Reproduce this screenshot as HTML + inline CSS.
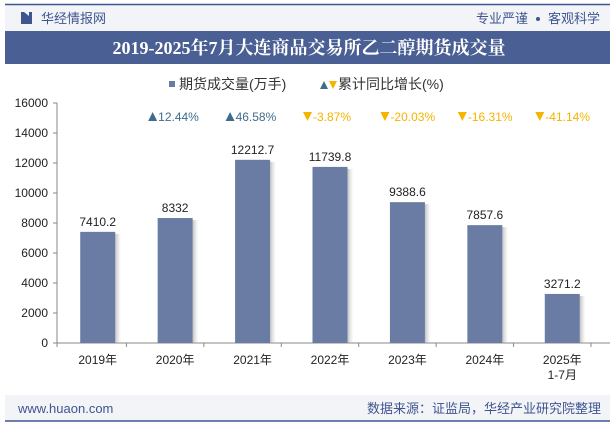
<!DOCTYPE html>
<html><head><meta charset="utf-8"><style>
body{margin:0;width:615px;height:427px;background:#fff;font-family:"Liberation Sans","Noto Sans CJK SC",sans-serif;overflow:hidden}
</style></head><body>
<svg width="615" height="427" xmlns="http://www.w3.org/2000/svg" font-family="Liberation Sans, Noto Sans CJK SC, sans-serif">
<defs><linearGradient id="sh" x1="0" x2="1"><stop offset="0" stop-color="#999" stop-opacity=".6"/><stop offset="1" stop-color="#ccc" stop-opacity="0"/></linearGradient></defs>
<rect x="5" y="5" width="605" height="26" fill="#f3f4f8"/>
<line x1="5" y1="4.5" x2="610" y2="4.5" stroke="#3f5590" stroke-width="1.5"/>
<rect x="21" y="12" width="3" height="12" fill="#3f5590"/><path d="M24 12 L29 16 L29 24 L24 24Z" fill="#3f5590"/><rect x="29" y="12" width="3" height="12" fill="#3f5590"/>
<text x="41" y="23" font-size="13" fill="#3f5590">华经情报网</text>
<text x="476" y="23" font-size="13" fill="#3f5590">专业严谨</text>
<circle cx="538" cy="19" r="2" fill="#3f5590"/>
<text x="548" y="23" font-size="13" fill="#3f5590">客观科学</text>
<rect x="5" y="31" width="605" height="33" fill="#4a5f93"/>
<text x="309" y="54" font-size="18" font-weight="bold" fill="#fff" text-anchor="middle" font-family="Liberation Serif, Noto Serif CJK SC, serif">2019-2025年7月大连商品交易所乙二醇期货成交量</text>
<rect x="169" y="81" width="6" height="6" fill="#6a7ca3"/>
<text x="179" y="89" font-size="14" fill="#333">期货成交量(万手)</text>
<path d="M320 89 L324 81 L328 89Z" fill="#3f6c8c"/><path d="M329 81 L337 81 L333 89Z" fill="#f5b400"/>
<text x="338" y="89" font-size="14" fill="#333">累计同比增长(%)</text>
<g id="axes"></g><g id="bars"></g>
<rect x="5" y="395" width="605" height="26" fill="#f3f4f8"/>
<line x1="5" y1="421" x2="610" y2="421" stroke="#3f5590" stroke-width="1.5"/>
<text x="18" y="413" font-size="13" fill="#3f5590">www.huaon.com</text>
<text x="601" y="413" font-size="13" fill="#3f5590" text-anchor="end">数据来源：证监局，华经产业研究院整理</text>
</svg>
<script>
const categories=["2019年","2020年","2021年","2022年","2023年","2024年","2025年"];
const volumes=[7410.2,8332,12212.7,11739.8,9388.6,7857.6,3271.2];
const growth=[null,12.44,46.58,-3.87,-20.03,-16.31,-41.14];
const yTicks=[0,2000,4000,6000,8000,10000,12000,14000,16000];
const NS="http://www.w3.org/2000/svg";
const x0=59,x1=601,y0=343,yTop=103,yMax=16000;
const bw=(x1-x0)/categories.length;
const X=i=>x0+bw*(i+0.5);
const Y=v=>y0-(v/yMax)*(y0-yTop);
function mk(t,a,p){const e=document.createElementNS(NS,t);for(const k in a)e.setAttribute(k,a[k]);p.appendChild(e);return e;}
const ax=document.getElementById('axes'),bg=document.getElementById('bars');
mk('line',{x1:57,y1:yTop,x2:57,y2:y0,stroke:'#888'},ax);
mk('line',{x1:57,y1:y0,x2:x1+9,y2:y0,stroke:'#888'},ax);
yTicks.forEach(v=>{
 mk('line',{x1:53,y1:Y(v),x2:57,y2:Y(v),stroke:'#888'},ax);
 const t=mk('text',{x:48,y:Y(v)+4,'font-size':12,fill:'#222','text-anchor':'end'},ax);t.textContent=v;
 
 
});
for(let i=0;i<=categories.length;i++)mk('line',{x1:x0+bw*i-10+(i==0?8:0),y1:y0,x2:x0+bw*i-10+(i==0?8:0),y2:y0+4,stroke:'#888'},ax);
categories.forEach((c,i)=>{
 const cx=X(i),v=volumes[i],w=35;
 mk('rect',{x:cx+w/2,y:Y(v)+2,width:6,height:y0-Y(v)-2,fill:'url(#sh)'},bg);
 const r=mk('rect',{x:cx-w/2,y:Y(v),width:w,height:y0-Y(v),fill:'#6a7ca3'},bg);
 
 
 const l=mk('text',{x:cx,y:Y(v)-6,'font-size':12,fill:'#222','text-anchor':'middle'},bg);l.textContent=v;
 
 
 const ct=mk('text',{x:cx,y:y0+21,'font-size':12,fill:'#222','text-anchor':'middle'},bg);ct.textContent=c;
 
 
 if(i==categories.length-1){const t2=mk('text',{x:cx,y:y0+36,'font-size':12,fill:'#222','text-anchor':'middle'},bg);t2.textContent='1-7月';
  
  }
 const g=growth[i];
 if(g!==null){
  const up=g>=0,col=up?'#3f6c8c':'#f5b400',gx=cx-27;
  mk('path',{d:up?`M${gx} 121 L${gx+4.5} 112 L${gx+9} 121Z`:`M${gx} 112 L${gx+9} 112 L${gx+4.5} 121Z`,fill:col},bg);
  const gt=mk('text',{x:gx+10,y:121,'font-size':12,fill:col},bg);gt.textContent=(up?'':'-')+Math.abs(g).toFixed(2)+'%';
  
  
 }
});
</script>
</body></html>
